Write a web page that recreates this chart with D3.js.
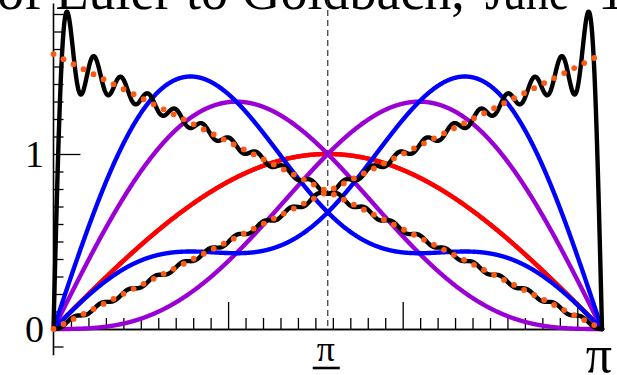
<!DOCTYPE html>
<html>
<head>
<meta charset="utf-8">
<script src="https://cdn.jsdelivr.net/npm/d3@7"></script>
<style>
  html, body { margin: 0; padding: 0; background: #fff; }
  svg { display: block; }
</style>
</head>
<body>
<svg id="chart" width="617" height="375"></svg>
<script>
// Partial sums S_N(x) = sin x + sin 2x / 2 + ... + sin Nx / N of Euler's series,
// and their reflections S_N(pi - x); the limits are (pi - x)/2 and x/2.
const partialSumOrders = [1, 2, 3, 40];
const limitFalling = [[0, 1.5708], [3.1416, 0]];   // (pi - x)/2
const limitRising  = [[0, 0], [3.1416, 1.5708]];   // x/2
const yMinorTicks = [-0.1, 0.1, 0.2, 0.3, 0.4, 0.5, 0.6, 0.7, 0.8, 0.9,
                     1.1, 1.2, 1.3, 1.4, 1.5, 1.6, 1.7, 1.8];
const yMajorTicks = [0, 1];
const yTickLabels = ["0", "1"];
const xMajorTicks = [1, 2, 3];
const xLabelValues = [Math.PI / 2, Math.PI];
const titleParts = ["of Euler to Goldbach,", "June", "1744"];

const lineColor = { 1: "#ff0000", 2: "#9a00d6", 3: "#0000ff", 40: "#000000" };

const svg = d3.select("#chart");
const x = d3.scaleLinear().domain([0, Math.PI]).range([53.5, 602]);
const y = d3.scaleLinear().domain([0, 1]).range([329, 154]);

const serif = "'Liberation Serif', 'Times New Roman', serif";

// title, mostly above the visible area
const title = svg.append("text")
  .attr("y", 9)
  .attr("font-family", serif).attr("font-size", 54)
  .attr("fill", "#000");
title.append("tspan").attr("x", -3).text(titleParts[0]);
title.append("tspan").attr("x", 485)
  .attr("textLength", 84).attr("lengthAdjust", "spacingAndGlyphs")
  .text(titleParts[1]);
title.append("tspan").attr("x", 598).text(titleParts[2]);

// dashed guide at pi/2
svg.append("line")
  .attr("x1", x(Math.PI / 2)).attr("x2", x(Math.PI / 2))
  .attr("y1", 0).attr("y2", y(0))
  .attr("stroke", "#333").attr("stroke-width", 1.2)
  .attr("stroke-dasharray", "6,4");

// x axis: ticks point upward
const xMinor = d3.range(1, 32).map(i => i / 10).filter(v => !xMajorTicks.includes(Math.round(v * 10) / 10));
const gx = svg.append("g").attr("transform", `translate(0,${y(0)})`);
gx.call(d3.axisTop(x).tickValues(xMinor).tickSize(11).tickSizeOuter(0).tickFormat(""));
gx.append("g").call(d3.axisTop(x).tickValues(xMajorTicks).tickSize(27).tickSizeOuter(0).tickFormat(""));
gx.selectAll(".domain").attr("stroke", "#000").attr("stroke-width", 1.6);
gx.selectAll(".tick line").attr("stroke", "#000").attr("stroke-width", 1.3);

// y axis: ticks point right
const yExtent = [-0.15, 1.86];
const gy = svg.append("g").attr("transform", `translate(${x(0)},0)`);
gy.call(d3.axisRight(y).tickValues(yMinorTicks).tickSize(10).tickSizeOuter(0).tickFormat(""));
gy.append("g").call(d3.axisRight(y).tickValues(yMajorTicks).tickSize(27).tickSizeOuter(0).tickFormat(""));
gy.selectAll(".domain").remove();
gy.append("line")
  .attr("x1", 0).attr("x2", 0)
  .attr("y1", y(yExtent[0])).attr("y2", y(yExtent[1]))
  .attr("stroke", "#000").attr("stroke-width", 1.6);
gy.selectAll(".tick line").attr("stroke", "#000").attr("stroke-width", 1.3);

// y tick labels
svg.selectAll("text.ylab").data(yMajorTicks).enter().append("text")
  .attr("class", "ylab")
  .attr("x", 44).attr("y", d => y(d) + 13)
  .attr("text-anchor", "end")
  .attr("font-family", serif).attr("font-size", 38)
  .text((d, i) => yTickLabels[i]);

// x labels: pi/2 as a stacked fraction, pi at the right end
const halfPi = x(xLabelValues[0]);
svg.append("text")
  .attr("x", halfPi - 2).attr("y", 361)
  .attr("text-anchor", "middle")
  .attr("font-family", serif).attr("font-size", 36)
  .text("π");
svg.append("line")
  .attr("x1", halfPi - 15).attr("x2", halfPi + 12)
  .attr("y1", 368).attr("y2", 368)
  .attr("stroke", "#000").attr("stroke-width", 2.6);
svg.append("text")
  .attr("x", halfPi - 2).attr("y", 404)
  .attr("text-anchor", "middle")
  .attr("font-family", serif).attr("font-size", 36)
  .text("2");
svg.append("text")
  .attr("x", x(xLabelValues[1]) - 3).attr("y", 372)
  .attr("text-anchor", "middle")
  .attr("font-family", serif).attr("font-size", 52)
  .text("π");

// partial sums
const samples = d3.range(0, 1601).map(i => i * Math.PI / 1600);
function partialSum(N, t, reflected) {
  let s = 0;
  for (let n = 1; n <= N; n++) {
    const sign = reflected && n % 2 === 0 ? -1 : 1;
    s += sign * Math.sin(n * t) / n;
  }
  return s;
}
const line = d3.line().x(d => x(d[0])).y(d => y(d[1]));

const drawOrder = [1, 2, 3, 40];
const gCurves = svg.append("g").attr("fill", "none");
drawOrder.filter(N => partialSumOrders.includes(N)).forEach(N => {
  [false, true].forEach(reflected => {
    const pts = samples.map(t => [t, partialSum(N, t, reflected)]);
    gCurves.append("path")
      .attr("d", line(pts))
      .attr("stroke", lineColor[N])
      .attr("stroke-width", 4.4)
      .attr("stroke-linejoin", "round")
      .attr("stroke-linecap", "round");
  });
});

// limit lines, dotted
[limitFalling, limitRising].forEach(pts => {
  svg.append("path")
    .attr("d", line(pts))
    .attr("fill", "none")
    .attr("stroke", "#ff5a12")
    .attr("stroke-width", 5.8)
    .attr("stroke-linecap", "round")
    .attr("stroke-dasharray", "0,11.2");
});
</script>
</body>
</html>
